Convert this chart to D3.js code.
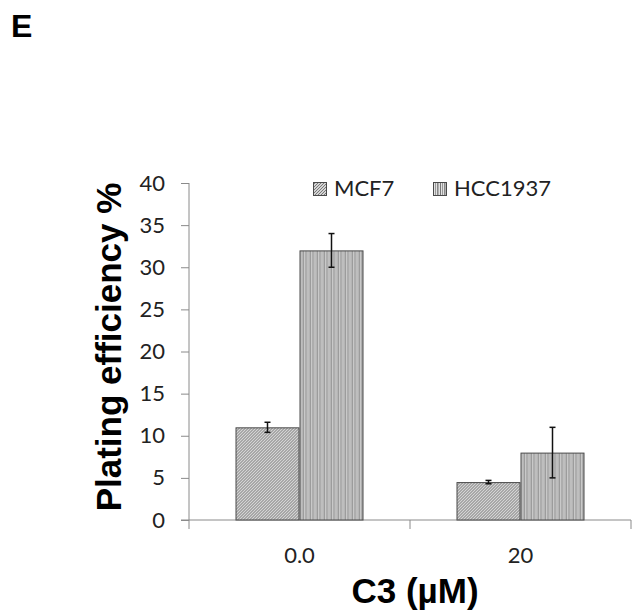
<!DOCTYPE html>
<html>
<head>
<meta charset="utf-8">
<script src="https://cdn.jsdelivr.net/npm/d3@7"></script>
<style>
  body { margin: 0; background: #fff; }
  svg { display: block; }
</style>
</head>
<body>
<svg class="chart"></svg>
<script>
// data
var categories = ["0.0", "20"];
var seriesNames = ["MCF7", "HCC1937"];
var mcf7Values = [11.0, 4.5];
var mcf7Errors = [0.6, 0.2];
var hccValues = [32.0, 8.0];
var hccErrors = [2.0, 3.0];
var yTicks = [0, 5, 10, 15, 20, 25, 30, 35, 40];

var W = 632, H = 611;
var margin = {top: 183, right: 1, bottom: 91, left: 189},
  width = W - margin.left - margin.right,
  height = H - margin.top - margin.bottom;
var tickFont = "Lato, 'Open Sans', sans-serif";

var chart = d3.select(".chart").attr("width", W).attr("height", H);

// patterns for the two series
var defs = chart.append("defs");
var p1 = defs.append("pattern")
  .attr("id", "hatchDiag")
  .attr("patternUnits", "userSpaceOnUse")
  .attr("width", 3).attr("height", 3);
p1.append("rect").attr("width", 3).attr("height", 3).attr("fill", "#d4d4d4");
p1.append("path").attr("d", "M0,3 L3,0 M-1,1 L1,-1 M2,4 L4,2")
  .attr("stroke", "#6e6e6e").attr("stroke-width", 0.9);

var p2 = defs.append("pattern")
  .attr("id", "hatchVert")
  .attr("patternUnits", "userSpaceOnUse")
  .attr("width", 7).attr("height", 10);
p2.append("rect").attr("width", 7).attr("height", 10).attr("fill", "#e2e2e2");
p2.append("rect").attr("x", 0).attr("width", 1).attr("height", 10).attr("fill", "#777");
p2.append("rect").attr("x", 2).attr("width", 1).attr("height", 10).attr("fill", "#9a9a9a");
p2.append("rect").attr("x", 4).attr("width", 1).attr("height", 10).attr("fill", "#888");
p2.append("rect").attr("x", 5).attr("width", 1).attr("height", 10).attr("fill", "#b0b0b0");

var fills = ["url(#hatchDiag)", "url(#hatchVert)"];

var body = chart.append("g")
  .attr("transform", "translate(" + margin.left + "," + margin.top + ")");

var x0 = d3.scaleBand().domain(categories).range([0, width]).paddingInner(0).paddingOuter(0);
var x1 = d3.scaleBand().domain(seriesNames).range([0, 128])
  .paddingInner(0).paddingOuter(0);
var y = d3.scaleLinear().domain([0, 40]).range([height, 0]);

// y axis
var yAxis = d3.axisLeft(y).tickValues(yTicks).tickSize(8).tickPadding(16);
var gy = body.append("g").call(yAxis);
gy.select(".domain").attr("stroke", "#8a8a8a").attr("d", "M0," + height + "V0");
gy.selectAll(".tick line").attr("stroke", "#8a8a8a");
gy.selectAll(".tick text")
  .attr("fill", "#222")
  .style("font-family", tickFont)
  .style("font-size", "22px");

// x axis, ticks between categories
var gx = body.append("g").attr("transform", "translate(0," + height + ")");
gx.append("line").attr("x1", -8).attr("x2", width).attr("stroke", "#8a8a8a");
var bounds = [0].concat(categories.map(function(c) { return x0(c) + x0.bandwidth(); }));
gx.selectAll(".sep").data(bounds).enter().append("line")
  .attr("x1", function(d) { return d; }).attr("x2", function(d) { return d; })
  .attr("y1", 0).attr("y2", 9).attr("stroke", "#8a8a8a");
gx.selectAll(".lab").data(categories).enter().append("text")
  .attr("x", function(d) { return x0(d) + x0.bandwidth() / 2; })
  .attr("y", 43)
  .attr("text-anchor", "middle")
  .attr("fill", "#222")
  .style("font-family", tickFont)
  .style("font-size", "22px")
  .text(function(d) { return d; });

// bars
var rows = categories.map(function(c, i) {
  return {cat: c, vals: [
    {name: seriesNames[0], v: mcf7Values[i], e: mcf7Errors[i], k: 0},
    {name: seriesNames[1], v: hccValues[i], e: hccErrors[i], k: 1}
  ]};
});

var group = body.selectAll(".grp").data(rows).enter().append("g")
  .attr("transform", function(d) {
    return "translate(" + (x0(d.cat) + (x0.bandwidth() - 128) / 2) + ",0)";
  });

group.selectAll("rect").data(function(d) { return d.vals; }).enter().append("rect")
  .attr("x", function(d) { return x1(d.name) + 0.5; })
  .attr("y", function(d) { return y(d.v) + 0.5; })
  .attr("width", x1.bandwidth() - 1)
  .attr("height", function(d) { return height - y(d.v) - 0.5; })
  .attr("fill", function(d) { return fills[d.k]; })
  .attr("stroke", "#4a4a4a")
  .attr("stroke-width", 1);

// error bars
var eb = group.selectAll(".err").data(function(d) { return d.vals; }).enter().append("g")
  .attr("stroke", "#111").attr("stroke-width", 1.5);
eb.append("line")
  .attr("x1", function(d) { return x1(d.name) + x1.bandwidth() / 2; })
  .attr("x2", function(d) { return x1(d.name) + x1.bandwidth() / 2; })
  .attr("y1", function(d) { return y(d.v + d.e); })
  .attr("y2", function(d) { return y(d.v - d.e); });
eb.selectAll(".cap").data(function(d) { return [d.v + d.e, d.v - d.e].map(function(t) { return {d: d, t: t}; }); })
  .enter().append("line")
  .attr("x1", function(c) { return x1(c.d.name) + x1.bandwidth() / 2 - 3; })
  .attr("x2", function(c) { return x1(c.d.name) + x1.bandwidth() / 2 + 3; })
  .attr("y1", function(c) { return y(c.t); })
  .attr("y2", function(c) { return y(c.t); });

// legend
var legendX = [313, 433];
var legend = chart.selectAll(".leg").data(seriesNames).enter().append("g")
  .attr("transform", function(d, i) { return "translate(" + legendX[i] + ",182)"; });
legend.append("rect")
  .attr("x", 0.5).attr("y", 0.5).attr("width", 13).attr("height", 13)
  .attr("fill", function(d, i) { return fills[i]; })
  .attr("stroke", "#4a4a4a");
legend.append("text")
  .attr("x", 21).attr("y", 14)
  .attr("fill", "#222")
  .style("font-family", tickFont)
  .style("font-size", "22px")
  .text(function(d) { return d; });

// axis titles
chart.append("text")
  .attr("transform", "translate(121,347) rotate(-90)")
  .attr("text-anchor", "middle")
  .style("font-family", "'Liberation Sans', Arial, sans-serif")
  .style("font-weight", "bold")
  .style("font-size", "35px")
  .text("Plating efficiency %");

chart.append("text")
  .attr("x", 415).attr("y", 603)
  .attr("text-anchor", "middle")
  .style("font-family", "'Liberation Sans', Arial, sans-serif")
  .style("font-weight", "bold")
  .style("font-size", "35px")
  .text("C3 (µM)");

// panel letter
chart.append("text")
  .attr("x", 11).attr("y", 37)
  .style("font-family", "'Liberation Sans', Arial, sans-serif")
  .style("font-weight", "bold")
  .style("font-size", "32px")
  .text("E");
</script>
</body>
</html>
